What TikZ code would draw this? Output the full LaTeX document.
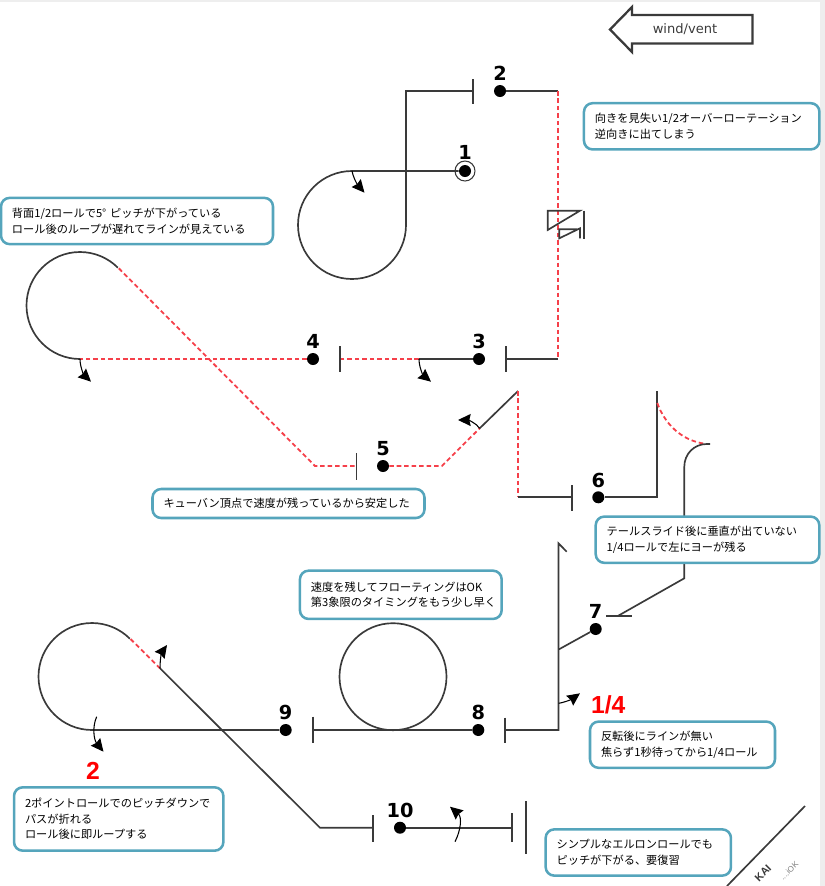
\documentclass[tikz,border=0pt]{standalone}
\usepackage{fontspec}
\usetikzlibrary{arrows.meta}
\setmainfont{Liberation Sans}
\newfontfamily\jpfont{Noto Sans CJK JP}
\newfontfamily\numfont{DejaVu Sans}
\definecolor{ink}{HTML}{3A3A3A}
\definecolor{redline}{HTML}{F5404A}
\definecolor{calloutblue}{HTML}{55A5BC}
\definecolor{edgegray}{HTML}{EEEEEE}
\tikzset{
  solidline/.style={draw=ink,line width=1.25pt,line join=miter},
  redcut/.style={draw=redline,line width=1.35pt,dash pattern=on 3.4pt off 2.2pt},
  tickmark/.style={draw=ink,line width=1.25pt},
  flagdot/.style={circle,fill=black,inner sep=0pt,minimum size=9pt},
  numlabel/.style={font=\numfont\bfseries\fontsize{14.5}{16}\selectfont,text=black,inner sep=0pt},
  redlabel/.style={font=\bfseries\fontsize{18.5}{20}\selectfont,text=red,inner sep=0pt},
  rollarrow/.style={draw=black,line width=.8pt,-{Stealth[length=9.5pt,width=9pt,inset=1pt]}},
  callout/.style={draw=calloutblue,line width=1.9pt,rounded corners=6.5pt,fill=white,align=left,
    inner xsep=8.25pt,inner ysep=0pt,text=black,
    font=\jpfont\fontsize{8.4}{11.6}\selectfont},
}
\begin{document}
\begin{tikzpicture}[x=0.75pt,y=-0.75pt]
\useasboundingbox (0,0) rectangle (825,886);
\clip (0,0) rectangle (825,886);
\fill[edgegray] (820,0) rectangle (825,886);
\fill[edgegray] (0,0) rectangle (825,2);

% wind arrow
\draw[draw=ink,line width=1.7pt,line join=miter] (610,29.5) -- (632,7) -- (632,15) -- (752.5,15) -- (752.5,43.5) -- (632,43.5) -- (632,52) -- cycle;
\node[text=ink,font=\numfont\fontsize{9.8}{11}\selectfont,inner sep=0pt] (windtext) at (685,29.5) {wind/vent};

% points
\node[flagdot] (d1) at (465,171) {};
\node[flagdot] (d2) at (500,91) {};
\node[flagdot] (d3) at (479,359) {};
\node[flagdot] (d4) at (313,359) {};
\node[flagdot] (d5) at (383,466) {};
\node[flagdot] (d6) at (598.3,497.3) {};
\node[flagdot] (d7) at (595.7,629) {};
\node[flagdot] (d8) at (478.3,730) {};
\node[flagdot] (d9) at (285.7,730) {};
\node[flagdot] (d10) at (400,827.7) {};
\node[circle,draw=ink,line width=.8pt,minimum size=15pt,inner sep=0pt] (ring) at (d1) {};

\node[numlabel] (n1) at (465,152) {1};
\node[numlabel] (n2) at (500,73) {2};
\node[numlabel] (n3) at (479,341) {3};
\node[numlabel] (n4) at (313,341) {4};
\node[numlabel] (n5) at (383,449) {5};
\node[numlabel] (n6) at (598.3,480) {6};
\node[numlabel] (n7) at (595.7,611) {7};
\node[numlabel] (n8) at (478.3,712) {8};
\node[numlabel] (n9) at (285.7,712) {9};
\node[numlabel] (n10) at (400,810) {10};
\node[redlabel] (r14) at (608.3,704.3) {1/4};
\node[redlabel] (r2) at (93,770.7) {2};

% waypoints
\coordinate (a1) at (352,171);
\coordinate (a3) at (406,91);
\coordinate (t2) at (473,91);
\coordinate (b1) at (558,91);
\coordinate (b2) at (558,359);
\coordinate (t3) at (506,359);
\coordinate (c1p) at (419,359);
\coordinate (t4) at (340,359);
\coordinate (l4a) at (80,359);
\coordinate (l4b) at (118.8,268.3);
\coordinate (k5) at (315,466);
\coordinate (t5) at (356.4,466);
\coordinate (e1) at (441.8,466);
\coordinate (e2) at (479.7,428.3);
\coordinate (e3) at (518,391);
\coordinate (e4) at (518,497.3);
\coordinate (t6) at (571.7,497.3);
\coordinate (f1) at (657.3,497.3);
\coordinate (f2) at (657.3,391);
\coordinate (f3) at (710,444);
\coordinate (f4) at (706.7,444);
\coordinate (f5) at (684.3,466.7);
\coordinate (f6) at (684.3,578.3);
\coordinate (f7) at (618.3,615.7);
\coordinate (g1) at (559,649.3);
\coordinate (g2) at (558.5,543.3);
\coordinate (g3) at (566.7,551.7);
\coordinate (g4) at (558.5,730);
\coordinate (t8) at (505.3,730);
\coordinate (t9) at (312.7,730);
\coordinate (h1) at (92,730);
\coordinate (h2) at (130.5,639);
\coordinate (h3) at (160,668.3);
\coordinate (h4) at (320,827.7);
\coordinate (t10a) at (373.3,827.7);
\coordinate (t10b) at (512.3,827.7);

% figure lines
\draw[solidline] (d1) -- (a1) arc[start angle=-90,end angle=-360,radius=54] -- (a3) -- (t2);
\draw[solidline] (d2) -- (b1);
\draw[redcut] (b1) -- (b2);
\draw[solidline] (b2) -- (t3);
\draw[solidline] (d3) -- (c1p);
\draw[redcut] (c1p) -- (t4);
\draw[redcut] (d4) -- (l4a);
\draw[solidline] (l4a) arc[start angle=90,end angle=315,radius=53.5];
\draw[redcut] (l4b) -- (k5) -- (t5);
\draw[redcut] (d5) -- (e1) -- (e2);
\draw[solidline] (e2) -- (e3);
\draw[redcut] (e3) -- (e4);
\draw[solidline] (e4) -- (t6);
\draw[solidline] (d6) -- (f1) -- (f2);
\draw[redcut] (657.3,403) .. controls (664,422) and (680,441) .. (f4);
\draw[solidline] (f3) -- (f4) .. controls (694,444) and (684.3,454) .. (f5) -- (f6) -- (f7);
\draw[solidline] (d7) -- (g1);
\draw[solidline] (g3) -- (g2) -- (g4) -- (t8);
\draw[solidline] (d8) -- (t9);
\draw[solidline] (d9) -- (h1) arc[start angle=90,end angle=315,radius=53.5];
\draw[redcut] (h2) -- (h3);
\draw[solidline] (h3) -- (h4) -- (t10a);
\draw[solidline] (d10) -- (t10b);
\node[circle,draw=ink,line width=1.25pt,minimum size=80.25pt,inner sep=0pt] (bigloop) at (393,676.7) {};

% ticks
\draw[tickmark] (473,79) -- (473,104);
\draw[tickmark] (506,346) -- (506,372);
\draw[tickmark] (340,346) -- (340,372);
\draw[tickmark] (356.4,453) -- (356.4,480);
\draw[tickmark] (571.7,485) -- (571.7,510.7);
\draw[tickmark] (606,615.7) -- (632,615.7);
\draw[tickmark] (505.3,717.7) -- (505.3,743.3);
\draw[tickmark] (312.7,716.7) -- (312.7,743.3);
\draw[tickmark] (373.3,815) -- (373.3,841.7);
\draw[tickmark] (512.3,813) -- (512.3,842);
\draw[tickmark] (526,801) -- (526,854);

% snap symbol
\draw[solidline] (580,210.7) -- (547.7,210.7) -- (547.7,230) -- (580,210.7) -- cycle;
\draw[solidline] (577,229.3) -- (559.3,229.3) -- (559.3,238.3) -- (580,228.3) -- (580,238.3);
\draw[tickmark] (584.3,210.7) -- (584.3,239.3);

% roll arrows
\draw[rollarrow] (a1) .. controls (353,177) and (357,184) .. (364.5,192.7);
\draw[rollarrow] (l4a) .. controls (80,367) and (84,375) .. (91,381.7);
\draw[rollarrow] (c1p) .. controls (419,367) and (423,375) .. (431,381.7);
\draw[rollarrow] (e2) .. controls (476,423) and (468,420) .. (458,420);
\draw[rollarrow] (558.7,703.3) .. controls (566,702) and (572,699) .. (580,693.3);
\draw[rollarrow] (96.7,716.7) .. controls (92,727) and (94,740) .. (103.5,751.7);
\draw[rollarrow] (h3) .. controls (160,658) and (162,652) .. (167,645);
\draw[rollarrow] (455,841.7) .. controls (461,830) and (462,817) .. (450,806.7);

% callouts
\node[callout,minimum height=34.7pt,text width=187.5pt] (c1) at (137,221) {背面1/2ロールで5° ピッチが下がっている\\ロール後のループが遅れてラインが見えている};
\node[callout,minimum height=34.7pt,text width=160.1pt] (c2) at (701.7,126.3) {向きを見失い1/2オーバーローテーション\\逆向きに出てしまう};
\node[callout,minimum height=21.75pt,text width=187.5pt] (c3) at (288.5,503.5) {キューバン頂点で速度が残っているから安定した};
\node[callout,minimum height=34.7pt,text width=151.2pt] (c4) at (707.5,539.7) {テールスライド後に垂直が出ていない\\1/4ロールで左にヨーが残る};
\node[callout,minimum height=36.2pt,text width=134.8pt] (c5) at (400.8,594.8) {速度を残してフローティングはOK\\第3象限のタイミングをもう少し早く};
\node[callout,minimum height=34.7pt,text width=122.25pt] (c6) at (682.5,744.7) {反転後にラインが無い\\焦らず1秒待ってから1/4ロール};
\node[callout,minimum height=47.5pt,text width=140.5pt] (c7) at (118.7,819) {2ポイントロールでのピッチダウンで\\パスが折れる\\ロール後に即ループする};
\node[callout,minimum height=34.7pt,text width=122.5pt] (c8) at (638.3,852.5) {シンプルなエルロンロールでも\\ピッチが下がる、要復習};

% corner mark
\coordinate (m1) at (805,806);
\coordinate (m2) at (727,886);
\draw[solidline] (m1) -- (m2);
\node[rotate=45,font=\bfseries\fontsize{8}{9}\selectfont,text=ink,inner sep=0pt] (kai) at (763,873) {KAI};
\node[rotate=45,font=\fontsize{6}{7}\selectfont,text=gray,inner sep=0pt] (ok) at (789,871) {....iOK};
\end{tikzpicture}
\end{document}
